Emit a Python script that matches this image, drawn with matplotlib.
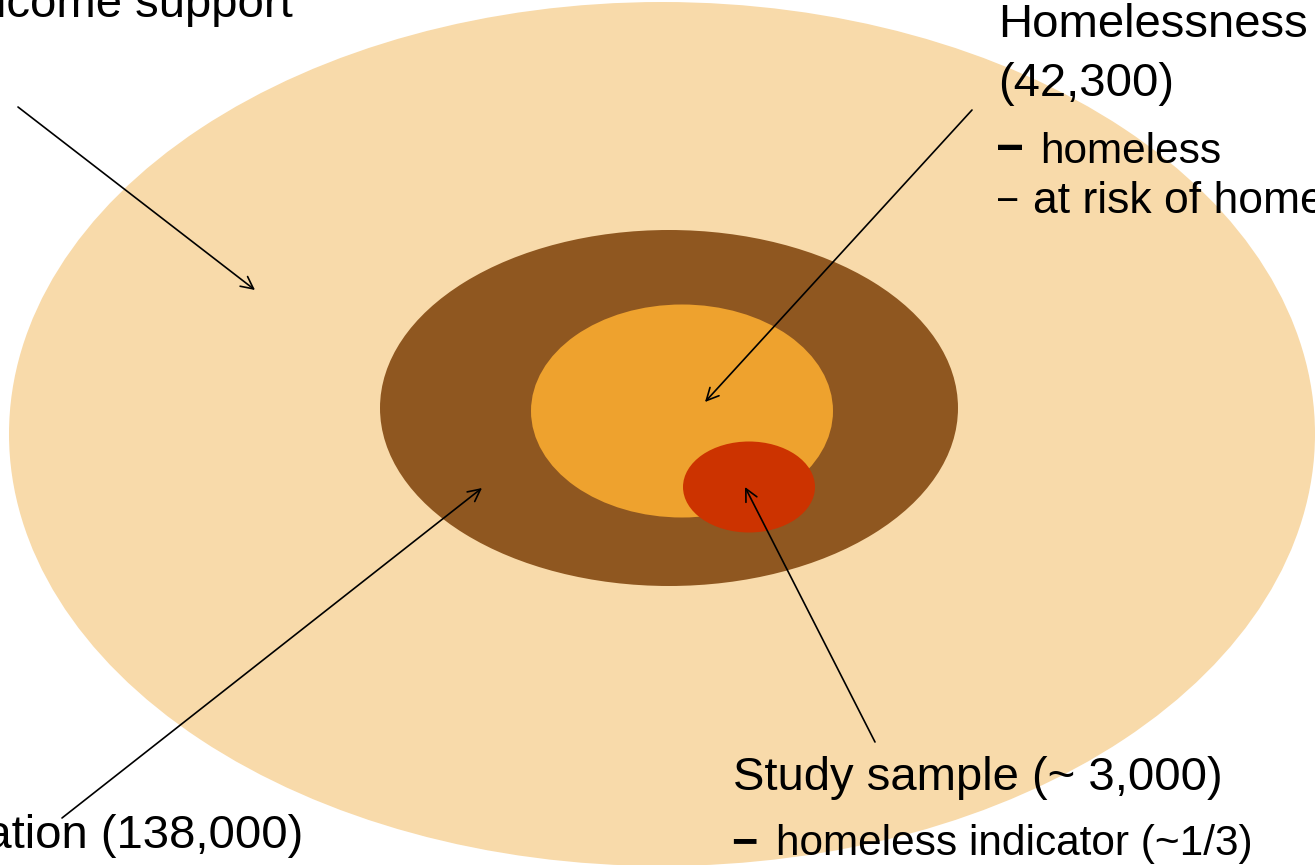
import matplotlib
matplotlib.use("Agg")
import matplotlib.pyplot as plt
from matplotlib.patches import Ellipse

# ---- data ----
groups = ["Income support", "Population", "Homelessness", "Study sample"]
counts = ["", "138,000", "42,300", "~ 3,000"]
homeless_items = ["homeless", "at risk of homelessness"]
sample_items = ["homeless indicator (~1/3)"]

# ---- geometry / style ----
ellipse_geom = [  # (cx, cy, w, h) in pixel coords
    (662, 434, 1306, 864),
    (669, 408, 578, 356),
    (682, 411, 302, 213),
    (749, 487, 132, 91),
]
ellipse_colors = ["#F8DAAA", "#8F5720", "#EEA22E", "#CC3300"]

plt.rcParams['font.family'] = ['Liberation Sans', 'DejaVu Sans']
fig = plt.figure(figsize=(13.15, 8.65), dpi=100)
ax = fig.add_axes([0, 0, 1, 1])
ax.set_xlim(0, 1315)
ax.set_ylim(865, 0)
ax.axis('off')

for (cx, cy, w, h), c in zip(ellipse_geom, ellipse_colors):
    ax.add_patch(Ellipse((cx, cy), w, h, facecolor=c, edgecolor='none'))

big = 34
small = 30.5

# Income support (cut off at left)
ax.text(293, 17, groups[0], ha='right', va='baseline', fontsize=big)
# Population
ax.text(303, 848, "Low-income popul" + "ation (" + counts[1] + ")", ha='right',
        va='baseline', fontsize=big)
# Homelessness
ax.text(998, 37, groups[2], ha='left', va='baseline', fontsize=big)
ax.text(998, 96, "(" + counts[2] + ")", ha='left', va='baseline', fontsize=big)
ax.text(996, 163, "\u2212", ha='left', va='baseline', fontsize=small + 4, fontweight='bold')
ax.text(1040, 163, homeless_items[0], ha='left', va='baseline', fontsize=small)
ax.text(996, 213, "\u2212", ha='left', va='baseline', fontsize=small - 2)
ax.text(1033, 213, homeless_items[1], ha='left', va='baseline', fontsize=32)
# Study sample
ax.text(733, 790, groups[3] + " (" + counts[3] + ")", ha='left', va='baseline', fontsize=big)
ax.text(731, 855, "\u2212", ha='left', va='baseline', fontsize=small + 2, fontweight='bold')
ax.text(776, 855, sample_items[0], ha='left', va='baseline', fontsize=small)

arrows = [
    ((18, 107), (255, 290)),
    ((972, 110), (705, 402)),
    ((62, 818), (482, 488)),
    ((875, 742), (745, 487)),
]
for start, end in arrows:
    ax.annotate("", xy=end, xytext=start,
                arrowprops=dict(arrowstyle='->', lw=1.2, color='black',
                                mutation_scale=22, shrinkA=0, shrinkB=0))

fig.savefig("out.png", dpi=100)
